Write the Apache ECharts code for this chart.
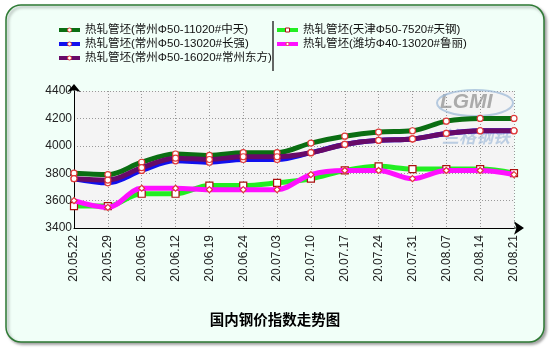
<!DOCTYPE html>
<html><head><meta charset="utf-8">
<script src="https://cdn.jsdelivr.net/npm/echarts@6/dist/echarts.min.js"></script>
<style>html,body{margin:0;padding:0;background:#fff;}#c{width:551px;height:349px;}</style>
</head><body><div id="c"></div>
<script>
const categories = ['20.05.22','20.05.29','20.06.05','20.06.12','20.06.19','20.06.24','20.07.03','20.07.10','20.07.17','20.07.24','20.07.31','20.08.07','20.08.14','20.08.21'];
const yTicks = [3400, 3600, 3800, 4000, 4200, 4400];
const nameZhongtian = '热轧管坯(常州Φ50-11020#中天)';
const nameChangqiang = '热轧管坯(常州Φ50-13020#长强)';
const nameDongfang = '热轧管坯(常州Φ50-16020#常州东方)';
const nameTiangang = '热轧管坯(天津Φ50-7520#天钢)';
const nameLuli = '热轧管坯(潍坊Φ40-13020#鲁丽)';
const zhongtian = [3800, 3790, 3880, 3940, 3930, 3950, 3950, 4020, 4070, 4100, 4110, 4180, 4200, 4200];
const changqiang = [3760, 3730, 3820, 3890, 3880, 3900, 3900, 3950, 4010, 4040, 4050, 4090, 4110, 4110];
const dongfang = [3760, 3750, 3840, 3910, 3900, 3920, 3920, 3950, 4010, 4040, 4050, 4090, 4110, 4110];
const tiangang = [3560, 3560, 3650, 3650, 3710, 3710, 3730, 3760, 3820, 3850, 3830, 3830, 3830, 3800];
const luli = [3600, 3550, 3690, 3690, 3680, 3680, 3680, 3790, 3820, 3820, 3760, 3820, 3820, 3790];

const chart = echarts.init(document.getElementById('c'), null, {renderer: 'canvas'});
const circleMark = {symbol: 'circle', symbolSize: 6, itemStyle: {color: '#ffffff', borderColor: '#e03a3a', borderWidth: 1.2}};
function mkLine(name, data, color, mark, z) {
  return Object.assign({
    name: name, type: 'line', data: data, smooth: 0.35, z: z,
    lineStyle: {color: color, width: 5},
    emphasis: {disabled: true}
  }, mark, {itemStyle: Object.assign({}, mark.itemStyle), color: color});
}
const series = [
  mkLine(nameZhongtian, zhongtian, '#0a6e12', circleMark, 2),
  mkLine(nameChangqiang, changqiang, '#1010ee', circleMark, 3),
  mkLine(nameDongfang, dongfang, '#680a68', circleMark, 4),
  mkLine(nameTiangang, tiangang, '#22ee22', {symbol: 'rect', symbolSize: 7, itemStyle: {color: '#ffffff', borderColor: '#aa1010', borderWidth: 1.2}}, 5),
  mkLine(nameLuli, luli, '#ff10ff', {symbol: 'diamond', symbolSize: 6, itemStyle: {color: '#ffffff', borderColor: '#e03a3a', borderWidth: 1.2}}, 6)
];
series.forEach(s => { s.lineStyle.color = s.color; });

const legendText = {fontFamily: '"Liberation Sans", "Noto Sans CJK SC", sans-serif', fontSize: 11.5, color: '#111', lineHeight: 14};
const legendCommon = {orient: 'vertical', itemWidth: 21, itemHeight: 5, itemGap: 0, padding: 0,
  textStyle: legendText, selectedMode: false, lineStyle: {width: 4}, itemStyle: {borderWidth: 1}};
chart.setOption({
  animation: false,
  backgroundColor: 'transparent',
  color: series.map(s => s.color),
  graphic: [
    {type: 'rect', shape: {x: 6, y: 5, width: 538, height: 337, r: 15}, z: -10,
     style: {fill: '#f1fff8', stroke: '#2e7a34', lineWidth: 1.5, shadowColor: 'rgba(0,0,0,0.35)', shadowBlur: 3, shadowOffsetX: 2, shadowOffsetY: 2}},
    {type: 'line', shape: {x1: 273, y1: 21, x2: 273, y2: 71}, style: {stroke: '#333', lineWidth: 1.5}, z: 5},
    {type: 'line', shape: {x1: 514, y1: 228, x2: 521, y2: 228}, style: {stroke: '#000', lineWidth: 1}, z: 5},
    {type: 'line', shape: {x1: 74, y1: 91, x2: 74, y2: 86}, style: {stroke: '#000', lineWidth: 1}, z: 5},
    {type: 'text', x: 440, y: 92, z: 1, style: {text: 'LGMI', font: 'italic bold 21px "Liberation Sans"', fill: '#8c8c8c', opacity: 0.7}},
    {type: 'ellipse', shape: {cx: 475, cy: 103, rx: 38, ry: 13}, z: 1, style: {fill: 'none', stroke: '#9ab6d6', lineWidth: 2, opacity: 0.7}},
    {type: 'text', x: 442, y: 128, z: 1, style: {text: '兰格钢铁', font: 'italic bold 17px "Noto Sans CJK SC"', fill: '#a8c0dc', opacity: 0.75}},
    {type: 'text', x: 275, y: 319, z: 5, style: {text: '国内钢价指数走势图', font: 'bold 14.5px "Noto Sans CJK SC"', fill: '#000', align: 'center', verticalAlign: 'middle'}}
  ],
  legend: [
    Object.assign({data: [nameZhongtian, nameChangqiang, nameDongfang], left: 57, top: 23}, legendCommon),
    Object.assign({data: [nameTiangang, nameLuli], left: 275, top: 23}, legendCommon)
  ],
  grid: {left: 74, right: 37, top: 91, bottom: 121, show: true, backgroundColor: '#f4f4f4', borderWidth: 0, containLabel: false},
  xAxis: {
    type: 'category', data: categories, boundaryGap: false,
    axisLine: {lineStyle: {color: '#000', width: 1}, symbol: ['none', 'arrow'], symbolSize: [10, 10], symbolOffset: [0, 10]},
    axisTick: {show: false},
    axisLabel: {rotate: 90, margin: 7, fontFamily: '"Liberation Sans", Arial', fontSize: 12, color: '#222', interval: 0},
    splitLine: {show: true, lineStyle: {color: '#999', type: [1, 2], width: 1}}
  },
  yAxis: {
    type: 'value', min: 3400, max: 4400, interval: 200,
    axisLine: {show: true, lineStyle: {color: '#000', width: 1}, symbol: ['none', 'arrow'], symbolSize: [10, 8], symbolOffset: [0, 7]},
    axisTick: {show: false},
    axisLabel: {margin: 2, fontFamily: '"Liberation Sans", Arial', fontSize: 12, color: '#222',
      formatter: v => yTicks.indexOf(v) >= 0 ? String(v) : ''},
    splitLine: {show: true, lineStyle: {color: '#999', type: [1, 2], width: 1}}
  },
  series: series
});
</script></body></html>
